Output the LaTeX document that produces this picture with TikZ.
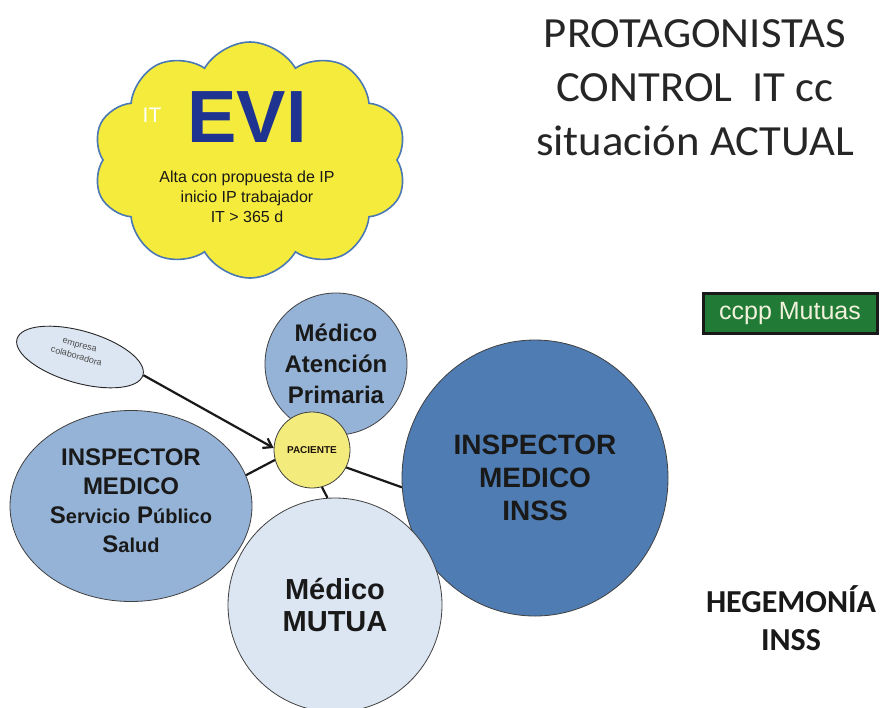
\documentclass[tikz,border=0pt]{standalone}
\usepackage{fontspec}
\setmainfont{Liberation Sans}
\newfontfamily\calibri{Carlito}
\usetikzlibrary{shapes.geometric, shapes.symbols, arrows.meta, positioning}

\definecolor{cloudfill}{HTML}{F5EB3C}
\definecolor{cloudline}{HTML}{4A78B4}
\definecolor{evitext}{HTML}{1F3491}
\definecolor{midblue}{HTML}{95B3D7}
\definecolor{deepblue}{HTML}{4F7DB3}
\definecolor{paleblue}{HTML}{DCE6F2}
\definecolor{pacfill}{HTML}{F3EC7C}
\definecolor{boxgreen}{HTML}{217A36}
\definecolor{boxtext}{HTML}{F2F2DC}

\newcommand{\fsz}[2]{\fontsize{#1}{#2}\selectfont}

\begin{document}
\begin{tikzpicture}[x=1pt, y=-1pt, >={Straight Barb[length=8pt,width=11pt]},
    actor/.style={circle, draw=black!75, line width=0.8pt, inner sep=0pt, align=center, text=black!90},
    link/.style={line width=2.2pt, draw=black!90},
    titletxt/.style={font=\calibri\fsz{43}{43}, text=black!85, anchor=base, xscale=1.04}]
    \path[fill=white, use as bounding box] (0,0) rectangle (882,707);

    % nube EVI
    \node[cloud, cloud puffs=10, cloud puff arc=120, aspect=1.35, draw=cloudline, line width=1.6pt,
          fill=cloudfill, minimum width=314pt, minimum height=236pt, inner sep=0pt] (evi) at (250,160) {};
    \node[text=white, font=\fsz{21}{21}] (evi-it) at (152,115) {IT};
    \node[text=evitext, font=\bfseries\fsz{74}{74}] (evi-txt) at (247,117) {EVI};
    \node[align=center, font=\fsz{16}{20}, text=black!90] (evi-note) at (247,197)
        {Alta con propuesta de IP\\inicio IP trabajador\\IT > 365 d};

    % titulo
    \node[titletxt] (t1) at (695,47) {PROTAGONISTAS};
    \node[titletxt] (t2) at (695,101) {CONTROL~ IT cc};
    \node[titletxt] (t3) at (695,155) {situación ACTUAL};

    \node[draw=black!90, line width=3pt, fill=boxgreen, text=boxtext, font=\fsz{25}{25},
          minimum width=174pt, minimum height=40pt, inner sep=0pt] (ccpp) at (790,313) {ccpp Mutuas};

    % actores
    \node[actor, fill=deepblue, ellipse, minimum width=266pt, minimum height=276pt,
          font=\bfseries\fsz{28}{33}] (inss) at (535,478) {INSPECTOR\\MEDICO\\INSS};
    \node[actor, fill=paleblue, minimum size=214pt, font=\bfseries\fsz{29}{32}] (mutua) at (335,605) {Médico\\MUTUA};
    \node[actor, fill=midblue, ellipse, minimum width=242pt, minimum height=191pt,
          font=\bfseries\fsz{24}{29}] (sps) at (131,506) {};
    \node[align=center, font=\bfseries\fsz{24}{29}, text=black!90] (sps-txt) at (131,501)
        {INSPECTOR\\MEDICO\\S{\fsz{20}{29}ervicio} P{\fsz{20}{29}úblico}\\S{\fsz{20}{29}alud}};
    \node[actor, fill=midblue, minimum size=142pt, font=\bfseries\fsz{24}{31}] (ap) at (336,364)
        {Médico\\Atención\\Primaria};
    \node[actor, fill=pacfill, minimum size=76pt, font=\bfseries\fsz{10}{10}, text=black!85!brown] (pac) at (312,450) {PACIENTE};
    \node[ellipse, draw=black!85, line width=0.9pt, fill=paleblue, rotate=-16, minimum width=131pt,
          minimum height=52pt, inner sep=0pt] (emp) at (80,357) {};
    \node[rotate=-16, align=center, font=\fsz{9}{12}, text=black!70] (emp-txt) at (78,351)
        {empresa\\colaboradora};

    \path[link]
    (emp.east) edge[->] (pac.177)
    (pac.195) edge (sps.15)
    (pac.-75) edge (mutua.94)
    (pac.-27) edge (inss.184);

    \node[font=\calibri\bfseries\fsz{32}{32}, text=black!90, anchor=base] (heg1) at (791,612) {HEGEMONÍA};
    \node[font=\calibri\bfseries\fsz{32}{32}, text=black!90, anchor=base] (heg2) at (791,650) {INSS};
\end{tikzpicture}
\end{document}
